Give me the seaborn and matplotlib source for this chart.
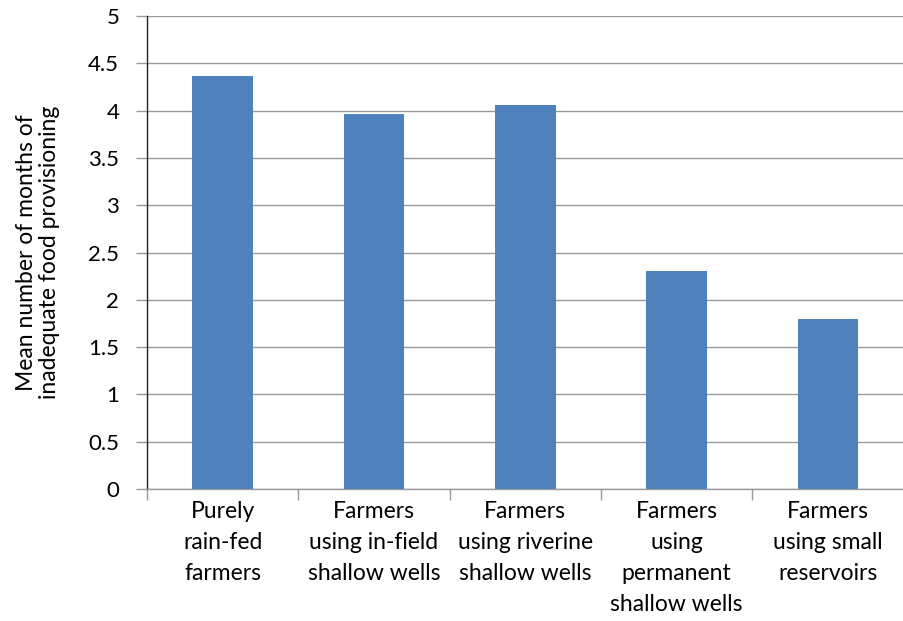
import matplotlib
matplotlib.use("Agg")
import matplotlib.pyplot as plt
import seaborn as sns
import pandas as pd
import numpy as np
from matplotlib.ticker import FixedLocator

categories = [
    "Purely\nrain-fed\nfarmers",
    "Farmers\nusing in-field\nshallow wells",
    "Farmers\nusing riverine\nshallow wells",
    "Farmers\nusing\npermanent\nshallow wells",
    "Farmers\nusing small\nreservoirs",
]
mean_months = [4.37, 3.96, 4.06, 2.30, 1.80]
y_ticks = [0, 0.5, 1, 1.5, 2, 2.5, 3, 3.5, 4, 4.5, 5]
y_tick_labels = ["0", "0.5", "1", "1.5", "2", "2.5", "3", "3.5", "4", "4.5", "5"]
y_label = "Mean number of months of\ninadequate food provisioning"

sns.set_theme(style="white")
plt.rcParams["font.family"] = ["Lato", "DejaVu Sans"]

df = pd.DataFrame({"group": categories, "months": mean_months})

fig = plt.figure(figsize=(9.04, 6.21), dpi=100)
ax = fig.add_axes([0.1626, 0.2126, 0.837, 0.7614])

sns.barplot(data=df, x="group", y="months", color="#4F81BD", width=0.4,
            saturation=1, linewidth=0, ax=ax, zorder=3)

ax.set_ylim(0, 5)
ax.set_xlim(-0.5, len(categories) - 0.5)
ax.set_yticks(y_ticks)
ax.set_yticklabels(y_tick_labels)
ax.yaxis.grid(True, color="#9a9a9a", linewidth=1.0, zorder=0)
ax.set_axisbelow(True)

for side in ["top", "right"]:
    ax.spines[side].set_visible(False)
ax.spines["left"].set_color("#222222")
ax.spines["left"].set_linewidth(1.0)
ax.spines["bottom"].set_color("#9a9a9a")
ax.spines["bottom"].set_linewidth(1.0)

ax.tick_params(axis="y", which="major", direction="out", length=8, width=1,
               color="#9a9a9a", labelcolor="black", labelsize=16, pad=12, left=True)
ax.tick_params(axis="x", which="major", length=0, labelsize=16.5, pad=9,
               labelcolor="black")
ax.xaxis.set_minor_locator(FixedLocator(np.arange(-0.5, len(categories), 1.0)))
ax.tick_params(axis="x", which="minor", direction="out", length=8, width=1,
               color="#9a9a9a", bottom=True)
for lab in ax.get_xticklabels():
    lab.set_linespacing(1.58)

ax.set_xlabel("")
ax.set_ylabel(y_label, fontsize=16.5, labelpad=20, linespacing=1.15, color="black")

fig.savefig("out.png", dpi=100)
